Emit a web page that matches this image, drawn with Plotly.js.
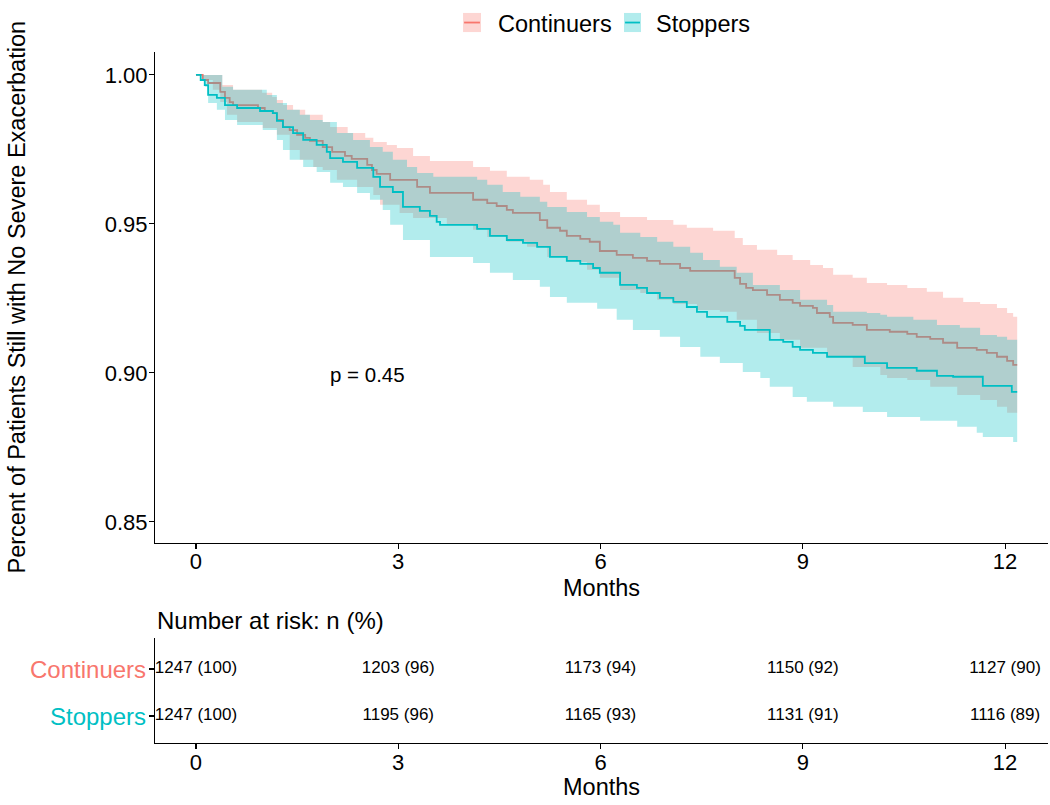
<!DOCTYPE html>
<html>
<head>
<meta charset="utf-8">
<script src="https://cdn.plot.ly/plotly-3.0.1.min.js"></script>
<style>
  body { margin: 0; background: #fff; }
  #km_plot { width: 1050px; height: 805px; }
</style>
</head>
<body>
<div id="km_plot"></div>
<script>
// Kaplan-Meier estimates (months, survival)
const cont_time = [0, 0.10, 0.18, 0.36, 0.43, 0.50, 0.55, 0.92, 1.02, 1.14, 1.20, 1.29, 1.39, 1.50, 1.62, 1.69, 1.88, 2.02, 2.21, 2.31, 2.54, 2.61, 2.68, 2.88, 3.28, 3.47, 4.11, 4.32, 4.46, 4.61, 4.70, 5.10, 5.21, 5.40, 5.50, 5.70, 5.84, 5.99, 6.24, 6.48, 6.69, 6.88, 7.18, 7.33, 7.99, 8.07, 8.16, 8.26, 8.47, 8.66, 8.85, 8.96, 9.15, 9.21, 9.40, 9.45, 9.74, 9.95, 10.29, 10.55, 10.69, 10.89, 11.08, 11.29, 11.58, 11.73, 11.88, 12.03, 12.12];
const cont_surv = [1.0000, 0.9983, 0.9973, 0.9943, 0.9923, 0.9909, 0.9899, 0.9889, 0.9879, 0.9872, 0.9849, 0.9825, 0.9815, 0.9799, 0.9789, 0.9779, 0.9758, 0.9742, 0.9728, 0.9718, 0.9698, 0.9681, 0.9668, 0.9648, 0.9624, 0.9604, 0.9581, 0.9570, 0.9560, 0.9547, 0.9537, 0.9513, 0.9487, 0.9477, 0.9460, 0.9450, 0.9440, 0.9409, 0.9396, 0.9386, 0.9376, 0.9366, 0.9352, 0.9342, 0.9319, 0.9299, 0.9285, 0.9278, 0.9262, 0.9245, 0.9235, 0.9225, 0.9218, 0.9201, 0.9188, 0.9168, 0.9161, 0.9144, 0.9138, 0.9131, 0.9121, 0.9114, 0.9101, 0.9084, 0.9077, 0.9067, 0.9054, 0.9040, 0.9027];

const stop_time = [0, 0.07, 0.13, 0.18, 0.31, 0.43, 0.61, 0.95, 1.14, 1.20, 1.29, 1.44, 1.59, 1.79, 1.94, 1.99, 2.18, 2.39, 2.63, 2.73, 2.92, 3.07, 3.32, 3.47, 3.57, 3.62, 4.17, 4.36, 4.61, 4.85, 5.06, 5.25, 5.50, 5.70, 5.89, 5.99, 6.29, 6.54, 6.69, 6.88, 7.08, 7.28, 7.43, 7.58, 7.88, 8.07, 8.14, 8.51, 8.71, 8.85, 8.96, 9.15, 9.36, 9.92, 10.25, 10.69, 10.99, 11.23, 11.67, 12.10];
const stop_surv = [1.0000, 0.9983, 0.9966, 0.9933, 0.9923, 0.9899, 0.9889, 0.9879, 0.9872, 0.9846, 0.9825, 0.9805, 0.9782, 0.9765, 0.9742, 0.9721, 0.9708, 0.9688, 0.9658, 0.9624, 0.9607, 0.9557, 0.9544, 0.9527, 0.9507, 0.9497, 0.9483, 0.9460, 0.9446, 0.9436, 0.9423, 0.9389, 0.9376, 0.9366, 0.9352, 0.9336, 0.9295, 0.9285, 0.9268, 0.9252, 0.9238, 0.9221, 0.9205, 0.9188, 0.9171, 0.9158, 0.9144, 0.9111, 0.9104, 0.9087, 0.9077, 0.9067, 0.9054, 0.9033, 0.9017, 0.9007, 0.8990, 0.8987, 0.8956, 0.8936];

// 95% confidence limits
const cont_up_time = [0, 0.39, 0.55, 0.98, 1.13, 1.20, 1.29, 1.44, 1.62, 1.88, 1.99, 2.25, 2.51, 2.63, 2.83, 2.98, 3.22, 3.47, 4.11, 4.36, 4.61, 4.95, 5.15, 5.25, 5.50, 5.80, 5.99, 6.29, 6.69, 7.08, 7.28, 7.67, 7.99, 8.11, 8.32, 8.62, 8.85, 9.11, 9.30, 9.45, 9.74, 9.95, 10.25, 10.55, 10.84, 11.08, 11.38, 11.63, 11.88, 12.03, 12.12];
const cont_up = [1.0000, 0.9966, 0.9950, 0.9940, 0.9926, 0.9916, 0.9899, 0.9883, 0.9866, 0.9842, 0.9825, 0.9805, 0.9789, 0.9775, 0.9765, 0.9755, 0.9728, 0.9711, 0.9691, 0.9678, 0.9658, 0.9648, 0.9631, 0.9607, 0.9581, 0.9564, 0.9540, 0.9523, 0.9513, 0.9497, 0.9487, 0.9477, 0.9453, 0.9429, 0.9413, 0.9396, 0.9379, 0.9362, 0.9352, 0.9329, 0.9319, 0.9302, 0.9295, 0.9285, 0.9272, 0.9252, 0.9238, 0.9231, 0.9218, 0.9201, 0.9188];

const cont_lo_time = [0, 0.10, 0.25, 0.36, 0.46, 0.61, 0.99, 1.20, 1.39, 1.54, 1.74, 1.88, 2.09, 2.39, 2.63, 2.73, 3.02, 3.22, 3.72, 4.11, 4.32, 4.61, 4.91, 5.21, 5.50, 5.80, 5.99, 6.29, 6.59, 6.84, 7.08, 7.43, 7.77, 8.02, 8.32, 8.66, 8.96, 9.36, 9.74, 10.15, 10.25, 10.55, 10.89, 11.29, 11.63, 11.88, 12.03];
const cont_lo = [1.0000, 0.9983, 0.9950, 0.9909, 0.9866, 0.9842, 0.9822, 0.9799, 0.9748, 0.9715, 0.9691, 0.9681, 0.9648, 0.9624, 0.9597, 0.9564, 0.9537, 0.9520, 0.9497, 0.9480, 0.9456, 0.9440, 0.9423, 0.9389, 0.9372, 0.9346, 0.9319, 0.9278, 0.9268, 0.9245, 0.9231, 0.9211, 0.9205, 0.9178, 0.9134, 0.9111, 0.9084, 0.9054, 0.9020, 0.8993, 0.8983, 0.8976, 0.8953, 0.8926, 0.8909, 0.8886, 0.8866];

const stop_up_time = [0, 0.39, 0.55, 1.05, 1.20, 1.35, 1.54, 1.69, 1.88, 2.09, 2.33, 2.58, 2.77, 2.92, 3.13, 3.28, 3.52, 4.17, 4.32, 4.55, 4.81, 5.10, 5.21, 5.50, 5.80, 5.99, 6.19, 6.29, 6.59, 6.84, 7.08, 7.33, 7.52, 7.77, 8.02, 8.26, 8.66, 8.96, 9.36, 9.45, 9.95, 10.15, 10.25, 10.64, 10.99, 11.33, 11.63, 11.88, 12.03];
const stop_up = [1.0000, 0.9960, 0.9950, 0.9933, 0.9906, 0.9883, 0.9866, 0.9849, 0.9842, 0.9805, 0.9782, 0.9758, 0.9742, 0.9715, 0.9691, 0.9671, 0.9658, 0.9648, 0.9631, 0.9607, 0.9591, 0.9574, 0.9557, 0.9540, 0.9523, 0.9507, 0.9497, 0.9470, 0.9456, 0.9440, 0.9423, 0.9403, 0.9379, 0.9356, 0.9336, 0.9295, 0.9278, 0.9245, 0.9228, 0.9205, 0.9201, 0.9195, 0.9188, 0.9178, 0.9161, 0.9151, 0.9127, 0.9121, 0.9111];

const stop_lo_time = [0, 0.10, 0.13, 0.18, 0.31, 0.43, 0.61, 0.99, 1.20, 1.29, 1.39, 1.59, 1.79, 1.99, 2.18, 2.39, 2.58, 2.77, 2.88, 3.07, 3.47, 4.11, 4.36, 4.70, 5.10, 5.25, 5.50, 5.95, 6.24, 6.48, 6.88, 7.18, 7.48, 7.77, 8.11, 8.37, 8.51, 8.85, 9.06, 9.45, 9.89, 10.25, 10.74, 11.29, 11.58, 11.67, 12.12];
const stop_lo = [1.0000, 0.9983, 0.9960, 0.9906, 0.9883, 0.9849, 0.9832, 0.9815, 0.9782, 0.9748, 0.9715, 0.9691, 0.9674, 0.9638, 0.9624, 0.9604, 0.9581, 0.9547, 0.9497, 0.9446, 0.9389, 0.9369, 0.9336, 0.9312, 0.9289, 0.9255, 0.9235, 0.9215, 0.9178, 0.9144, 0.9121, 0.9087, 0.9054, 0.9033, 0.9003, 0.8983, 0.8953, 0.8919, 0.8903, 0.8886, 0.8869, 0.8852, 0.8839, 0.8819, 0.8799, 0.8785, 0.8768];

const last_time = 12.18;

// risk table
const risk_ticks = [0, 3, 6, 9, 12];
const risk_cont = ["1247 (100)", "1203 (96)", "1173 (94)", "1150 (92)", "1127 (90)"];
const risk_stop = ["1247 (100)", "1195 (96)", "1165 (93)", "1131 (91)", "1116 (89)"];

const p_label = "p = 0.45";

const colors = {
  cont: "#F8766D",
  stop: "#00BFC4",
  cont_fill: "rgba(248,118,109,0.3)",
  stop_fill: "rgba(0,191,196,0.3)"
};
const font_family = "Liberation Sans, Arial, sans-serif";
const big = 23.5;

// expand a step function into explicit corner points
function step_points(t, s, t_end) {
  let xs = [], ys = [];
  for (let i = 0; i < t.length; i++) {
    let next = i + 1 < t.length ? t[i + 1] : t_end;
    xs.push(t[i], next);
    ys.push(s[i], s[i]);
  }
  return { x: xs, y: ys };
}

function band_trace(up_t, up, lo_t, lo, fill) {
  let a = step_points(up_t, up, last_time);
  let b = step_points(lo_t, lo, last_time);
  return {
    x: a.x.concat(b.x.slice().reverse()),
    y: a.y.concat(b.y.slice().reverse()),
    type: "scatter",
    mode: "lines",
    fill: "toself",
    fillcolor: fill,
    line: { width: 0 },
    hoverinfo: "skip"
  };
}

function line_trace(t, s, color) {
  return {
    x: t.concat([last_time]),
    y: s.concat([s[s.length - 1]]),
    type: "scatter",
    mode: "lines",
    line: { color: color, width: 1.8, shape: "hv" },
    hoverinfo: "skip"
  };
}

let data = [
  band_trace(cont_up_time, cont_up, cont_lo_time, cont_lo, colors.cont_fill),
  line_trace(cont_time, cont_surv, colors.cont),
  band_trace(stop_up_time, stop_up, stop_lo_time, stop_lo, colors.stop_fill),
  line_trace(stop_time, stop_surv, colors.stop),
  {
    x: risk_ticks.concat(risk_ticks),
    y: risk_ticks.map(() => 2).concat(risk_ticks.map(() => 1)),
    text: risk_cont.concat(risk_stop),
    type: "scatter",
    mode: "text",
    textfont: { family: font_family, size: 17, color: "#000" },
    xaxis: "x2",
    yaxis: "y2",
    hoverinfo: "skip"
  }
];

const axis_style = {
  showline: true,
  linecolor: "#000",
  linewidth: 1.1,
  ticks: "outside",
  ticklen: 5,
  tickwidth: 1.1,
  tickcolor: "#000",
  showgrid: false,
  zeroline: false,
  tickfont: { family: font_family, size: 22, color: "#000" }
};

let layout = {
  width: 1050,
  height: 805,
  margin: { l: 0, r: 0, t: 0, b: 0 },
  paper_bgcolor: "#fff",
  plot_bgcolor: "#fff",
  showlegend: false,
  font: { family: font_family, color: "#000" },
  xaxis: Object.assign({}, axis_style, {
    domain: [0.1476, 0.9981],
    range: [-0.608, 12.637],
    tickvals: risk_ticks,
    ticklabelstandoff: -6,
    anchor: "y"
  }),
  yaxis: Object.assign({}, axis_style, {
    domain: [0.3255, 0.9354],
    range: [0.8429, 1.0077],
    tickvals: [0.85, 0.9, 0.95, 1.0],
    tickformat: ".2f",
    ticklabelstandoff: -3,
    anchor: "x"
  }),
  xaxis2: Object.assign({}, axis_style, {
    domain: [0.1476, 0.9981],
    range: [-0.608, 12.637],
    tickvals: risk_ticks,
    ticklabelstandoff: -6,
    anchor: "y2"
  }),
  yaxis2: Object.assign({}, axis_style, {
    domain: [0.077, 0.2075],
    range: [0.426, 2.66],
    tickvals: [1, 2],
    ticktext: ["", ""],
    anchor: "x2"
  }),
  shapes: [
    { type: "rect", xref: "paper", yref: "paper", x0: 0.4410, x1: 0.4581, y0: 0.9602, y1: 0.9839,
      fillcolor: colors.cont_fill, line: { width: 0 } },
    { type: "line", xref: "paper", yref: "paper", x0: 0.4420, x1: 0.4571, y0: 0.9720, y1: 0.9720,
      line: { color: colors.cont, width: 1.8 } },
    { type: "rect", xref: "paper", yref: "paper", x0: 0.5943, x1: 0.6105, y0: 0.9602, y1: 0.9839,
      fillcolor: colors.stop_fill, line: { width: 0 } },
    { type: "line", xref: "paper", yref: "paper", x0: 0.5953, x1: 0.6095, y0: 0.9720, y1: 0.9720,
      line: { color: colors.stop, width: 1.8 } }
  ],
  annotations: [
    { text: "Continuers", xref: "paper", yref: "paper", x: 0.4724, y: 0.9702,
      xanchor: "left", yanchor: "middle", showarrow: false, font: { size: big } },
    { text: "Stoppers", xref: "paper", yref: "paper", x: 0.6229, y: 0.9702,
      xanchor: "left", yanchor: "middle", showarrow: false, font: { size: big } },
    { text: "Percent of Patients Still with No Severe Exacerbation", xref: "paper", yref: "paper",
      x: 0.0162, y: 0.6305, xanchor: "center", yanchor: "middle", textangle: -90,
      showarrow: false, font: { size: big } },
    { text: "Months", xref: "paper", yref: "paper", x: 0.5729, y: 0.2696,
      xanchor: "center", yanchor: "middle", showarrow: false, font: { size: big } },
    { text: "Months", xref: "paper", yref: "paper", x: 0.5729, y: 0.0224,
      xanchor: "center", yanchor: "middle", showarrow: false, font: { size: big } },
    { text: p_label, xref: "x", yref: "y", x: 2.55, y: 0.8993,
      xanchor: "center", yanchor: "middle", showarrow: false, font: { size: 20.5 } },
    { text: "Number at risk: n (%)", xref: "paper", yref: "paper", x: 0.1476, y: 0.2298,
      xanchor: "left", yanchor: "middle", showarrow: false, font: { size: 24 } },
    { text: "Continuers", xref: "paper", yref: "y2", x: 0.1410, y: 2,
      xanchor: "right", yanchor: "middle", showarrow: false, font: { size: 24, color: colors.cont } },
    { text: "Stoppers", xref: "paper", yref: "y2", x: 0.1410, y: 1,
      xanchor: "right", yanchor: "middle", showarrow: false, font: { size: 24, color: colors.stop } }
  ]
};

Plotly.newPlot("km_plot", data, layout, { staticPlot: true });
</script>
</body>
</html>
